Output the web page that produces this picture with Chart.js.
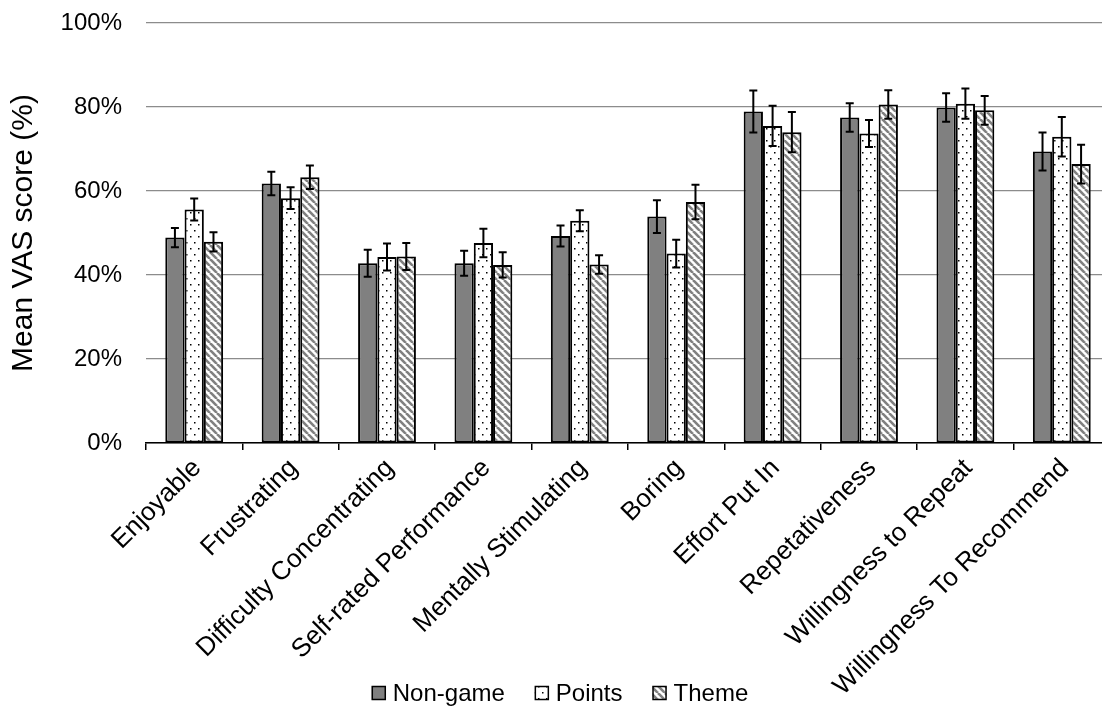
<!DOCTYPE html>
<html>
<head>
<meta charset="utf-8">
<script src="https://cdn.jsdelivr.net/npm/chart.js@4/dist/chart.umd.min.js"></script>
<style>
  html, body { margin: 0; padding: 0; background: #fff; overflow: hidden; }
  #wrap { width: 1102px; height: 708px; overflow: hidden; }
</style>
</head>
<body>
<div id="wrap"><canvas id="c" width="1110" height="708"></canvas></div>
<script>
// Mean VAS ratings (%) per questionnaire item, with error bar half-widths
const categories = [
  "Enjoyable", "Frustrating", "Difficulty Concentrating", "Self-rated Performance",
  "Mentally Stimulating", "Boring", "Effort Put In", "Repetativeness",
  "Willingness to Repeat", "Willingness To Recommend"
];
const seriesNames = ["Non-game", "Points", "Theme"];

const nonGame    = [48.9, 61.8, 42.8, 42.8, 49.3, 53.9, 78.9, 77.5, 79.9, 69.4];
const nonGameErr = [2.3, 2.8, 3.2, 3.0, 2.5, 3.9, 5.0, 3.4, 3.4, 4.5];
const points     = [55.6, 58.3, 44.3, 47.6, 52.9, 45.1, 75.5, 73.7, 80.8, 72.9];
const pointsErr  = [2.6, 2.6, 3.2, 3.4, 2.5, 3.3, 4.8, 3.2, 3.6, 4.7];
const theme      = [47.9, 63.3, 44.4, 42.4, 42.5, 57.4, 74.0, 80.6, 79.2, 66.4];
const themeErr   = [2.3, 2.8, 3.2, 3.0, 2.2, 4.1, 4.8, 3.4, 3.4, 4.6];

const yTickValues = [0, 20, 40, 60, 80, 100];
const yTitle = "Mean VAS score (%)";

const FONT = "'Liberation Sans', Arial, sans-serif";

// Fill patterns for the three conditions
const ctx = document.getElementById('c').getContext('2d');
function pattern(w, h, paint) {
  const cv = document.createElement('canvas');
  cv.width = w; cv.height = h;
  const g = cv.getContext('2d');
  g.fillStyle = '#fff';
  g.fillRect(0, 0, w, h);
  paint(g);
  return ctx.createPattern(cv, 'repeat');
}
const dotFill = pattern(8, 12, g => {
  g.fillStyle = '#000';
  g.fillRect(2, 2, 1.5, 1.5);
  g.fillRect(6, 8, 1.5, 1.5);
});
const stripeFill = pattern(7, 7, g => {
  g.strokeStyle = '#808080';
  g.lineWidth = 2.6;
  for (const o of [-7, 0, 7]) {
    g.beginPath();
    g.moveTo(o, 0);
    g.lineTo(o + 7, 7);
    g.stroke();
  }
});
const solidFill = '#808080';

// Error bars drawn over each bar
const errorBars = {
  id: 'errorBars',
  afterDatasetsDraw(chart) {
    const c = chart.ctx;
    const ys = chart.scales.y;
    c.save();
    c.strokeStyle = '#000';
    c.lineWidth = 2;
    chart.data.datasets.forEach((ds, i) => {
      const meta = chart.getDatasetMeta(i);
      meta.data.forEach((bar, j) => {
        const v = ds.data[j], e = ds.errors[j];
        const top = ys.getPixelForValue(v + e);
        const bot = ys.getPixelForValue(v - e);
        const x = bar.x, cap = 4;
        c.beginPath();
        c.moveTo(x, top); c.lineTo(x, bot);
        c.moveTo(x - cap, top); c.lineTo(x + cap, top);
        c.moveTo(x - cap, bot); c.lineTo(x + cap, bot);
        c.stroke();
      });
    });
    c.restore();
  }
};

// Legend row along the bottom edge
const bottomLegend = {
  id: 'bottomLegend',
  afterDraw(chart) {
    const c = chart.ctx;
    c.save();
    c.font = '24px ' + FONT;
    c.textBaseline = 'middle';
    c.textAlign = 'left';
    const box = 14, gap = 7, itemGap = 30, cy = 693;
    const items = chart.data.datasets.map(ds => ({
      label: ds.label, fill: ds.backgroundColor, w: c.measureText(ds.label).width
    }));
    const total = items.reduce((s, it) => s + box + gap + it.w, 0) + itemGap * (items.length - 1);
    let x = 560 - total / 2;
    items.forEach(it => {
      c.fillStyle = it.fill;
      c.fillRect(x, cy - box / 2, box, box);
      c.strokeStyle = '#000';
      c.lineWidth = 1.5;
      c.strokeRect(x + 0.5, cy - box / 2 + 0.5, box - 1, box - 1);
      c.fillStyle = '#000';
      c.fillText(it.label, x + box + gap, cy + 1);
      x += box + gap + it.w + itemGap;
    });
    c.restore();
  }
};

const barStyle = { borderColor: '#000', borderWidth: 2, borderSkipped: false };

new Chart(ctx, {
  type: 'bar',
  data: {
    labels: categories,
    datasets: [
      { label: seriesNames[0], data: nonGame, errors: nonGameErr, backgroundColor: solidFill, ...barStyle },
      { label: seriesNames[1], data: points, errors: pointsErr, backgroundColor: dotFill, ...barStyle },
      { label: seriesNames[2], data: theme, errors: themeErr, backgroundColor: stripeFill, ...barStyle }
    ]
  },
  options: {
    responsive: false,
    devicePixelRatio: 1,
    animation: false,
    layout: { padding: { top: 23, right: 0, bottom: 0, left: 0 } },
    datasets: { bar: { categoryPercentage: 0.6, barPercentage: 1.0 } },
    plugins: { legend: { display: false }, tooltip: { enabled: false } },
    scales: {
      x: {
        grid: { drawOnChartArea: false, drawTicks: true, tickLength: 7, color: '#000', lineWidth: 1.5, offset: true },
        border: { display: true, color: '#000', width: 1.5 },
        ticks: {
          autoSkip: false, minRotation: 45, maxRotation: 45, padding: 3, labelOffset: 3,
          color: '#000', font: { family: FONT, size: 26 }
        },
        afterFit(scale) { scale.height = 265; }
      },
      y: {
        min: 0, max: 100,
        afterBuildTicks(scale) { scale.ticks = yTickValues.map(v => ({ value: v })); },
        grid: { color: '#8c8c8c', lineWidth: 1.2, drawTicks: false },
        border: { display: false },
        ticks: {
          padding: 24, color: '#000', font: { family: FONT, size: 24 },
          callback: v => v + '%'
        },
        title: {
          display: true, text: yTitle, color: '#000',
          font: { family: FONT, size: 30 }, padding: { top: 6, bottom: 0 }
        },
        afterFit(scale) {
          scale.width = 146;
          scale.paddingTop = 0;
          scale.paddingBottom = 0;
        }
      }
    }
  },
  plugins: [errorBars, bottomLegend]
});
</script>
</body>
</html>
